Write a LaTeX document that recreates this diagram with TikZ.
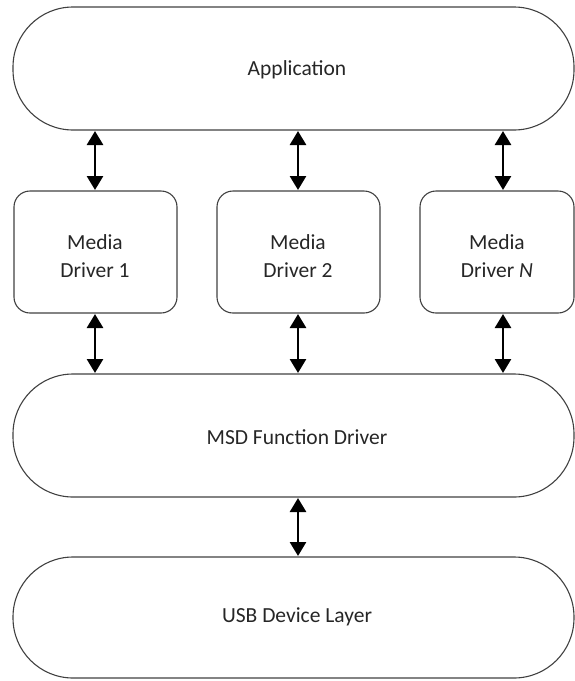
\documentclass[tikz,border=0pt]{standalone}
\usepackage{fontspec}
\setmainfont{Carlito}
\usetikzlibrary{arrows.meta}
\begin{document}
\begin{tikzpicture}[x=1pt,y=-1pt,
  pill/.style={draw=black!75,line width=1.1pt,rounded corners=60pt},
  drvbox/.style={draw=black!75,line width=1.1pt,rounded corners=16pt},
  lbl/.style={font=\fontsize{21.5}{28}\selectfont,text=black!85,align=center},
  biarrow/.style={line width=2.6pt,{Triangle[length=14pt,width=16pt]}-{Triangle[length=14pt,width=16pt]}}]
\useasboundingbox (0,0) rectangle (575,681);
% layers
\draw[pill] (13,7) rectangle (574,130);
\node[lbl] (app) at (297,70) {Application};
\draw[drvbox] (14,191) rectangle (177,313);
\node[lbl] (d1) at (95,256) {Media\\Driver 1};
\draw[drvbox] (217,191) rectangle (380,313);
\node[lbl] (d2) at (298,256) {Media\\Driver 2};
\draw[drvbox] (420,191) rectangle (574,313);
\node[lbl] (dn) at (497,256) {Media\\Driver \textit{N}};
\draw[pill] (13,374) rectangle (574,497);
\node[lbl] (msd) at (297,437) {MSD Function Driver};
\draw[pill] (13,557) rectangle (574,678);
\node[lbl] (usb) at (297,617) {USB Device Layer};
% arrow anchors
\coordinate (a1t) at (95,131); \coordinate (a1b) at (95,190);
\coordinate (a2t) at (298,131); \coordinate (a2b) at (298,190);
\coordinate (a3t) at (503,131); \coordinate (a3b) at (503,190);
\coordinate (b1t) at (95,314); \coordinate (b1b) at (95,373);
\coordinate (b2t) at (298,314); \coordinate (b2b) at (298,373);
\coordinate (b3t) at (503,314); \coordinate (b3b) at (503,373);
\coordinate (ct) at (298,498); \coordinate (cb) at (298,556);
\draw[biarrow] (a1t) -- (a1b);
\draw[biarrow] (a2t) -- (a2b);
\draw[biarrow] (a3t) -- (a3b);
\draw[biarrow] (b1t) -- (b1b);
\draw[biarrow] (b2t) -- (b2b);
\draw[biarrow] (b3t) -- (b3b);
\draw[biarrow] (ct) -- (cb);
\end{tikzpicture}
\end{document}
